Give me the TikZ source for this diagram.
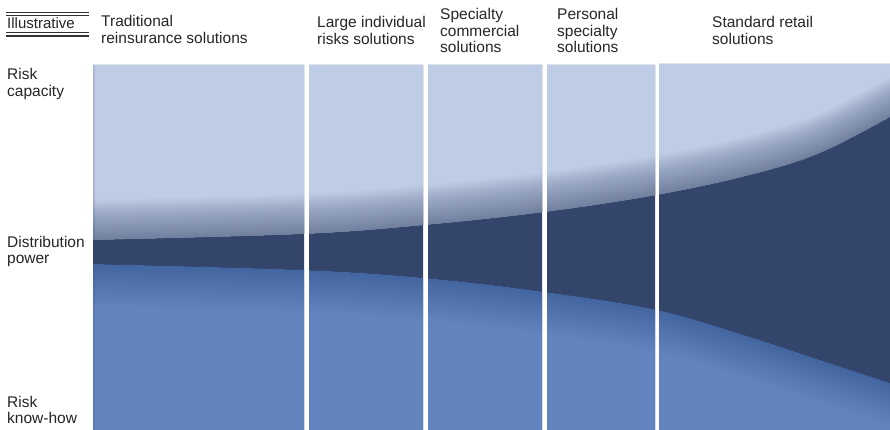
\documentclass[tikz,border=0pt]{standalone}
\usepackage{fontspec}
\setmainfont{Liberation Sans}
\definecolor{capacity}{RGB}{191,204,230}
\definecolor{band}{RGB}{52,69,107}
\definecolor{knowhow}{RGB}{98,132,190}
\tikzset{
  lbl/.style={anchor=base west, inner sep=0pt, align=left,
    font=\fontsize{15.5}{16.5}\selectfont, text=black!85},
  rule/.style={line width=1.2pt, black!80},
  curve/.style={smooth, tension=0.6}
}
\begin{document}
\begin{tikzpicture}[x=1pt,y=-1pt]
\useasboundingbox (0,0) rectangle (890,430);
\fill[white] (0,0) rectangle (890,430);

% the five segment panels
\begin{scope}
  \clip (93,65) rectangle (304,430) (309,65) rectangle (423,430)
        (428,65) rectangle (542,430) (547,65) rectangle (655,430)
        (659,64) rectangle (890,430);
  \fill[band] (80,50) rectangle (900,440);
  % risk capacity (top region) with darkening towards its edge
  \begin{scope}
    \clip (93,0) -- plot[curve] coordinates {(93,240) (304,234) (425,225) (545,212) (657,195) (750,175) (820,153) (890,117)} -- (890,0) -- cycle;
    \fill[capacity] (80,0) rectangle (900,440);
    \foreach \d in {1,...,32}{
      \fill[band, opacity=0.018, yshift=\d*1.25pt]
        (93,600) -- plot[curve] coordinates {(93,240) (304,234) (425,225) (545,212) (657,195) (750,175) (820,153) (890,117)} -- (890,600) -- cycle;
    }
  \end{scope}
  % risk know-how (bottom region) with darkening towards its edge
  \begin{scope}
    \clip (93,440) -- plot[curve] coordinates {(93,264) (304,270) (425,278) (545,292) (657,310) (750,337) (820,360) (890,383)} -- (890,440) -- cycle;
    \fill[knowhow] (80,0) rectangle (900,440);
    \foreach \d in {1,...,30}{
      \fill[band, opacity=0.013, yshift=-\d*1.4pt]
        (93,-200) -- plot[curve] coordinates {(93,264) (304,270) (425,278) (545,292) (657,310) (750,337) (820,360) (890,383)} -- (890,-200) -- cycle;
    }
  \end{scope}
  \fill[band, opacity=0.15] (93,65) rectangle (95,430);
\end{scope}

% "Illustrative" tag between double rules
\draw[rule] (6,12.3) -- (89,12.3);
\draw[rule] (6,15.7) -- (89,15.7);
\draw[rule] (6,32.7) -- (89,32.7);
\draw[rule] (6,36) -- (89,36);
\node[lbl, font=\fontsize{15}{16}\selectfont] (tag) at (7,29) {Illustrative};

% column headings (placed by the baseline of their last line)
\node[lbl] (trad) at (101,43.5) {Traditional\\reinsurance solutions};
\node[lbl] (large) at (317,44.5) {Large individual\\risks solutions};
\node[lbl] (spec) at (440,53) {Specialty\\commercial\\solutions};
\node[lbl] (pers) at (557,53) {Personal\\specialty\\solutions};
\node[lbl] (retail) at (712,44.5) {Standard retail\\solutions};

% row labels
\node[lbl] (cap) at (7,96.5) {Risk\\capacity};
\node[lbl] (dist) at (7,263.5) {Distribution\\power};
\node[lbl] (know) at (7,423.5) {Risk\\know-how};
\end{tikzpicture}
\end{document}
